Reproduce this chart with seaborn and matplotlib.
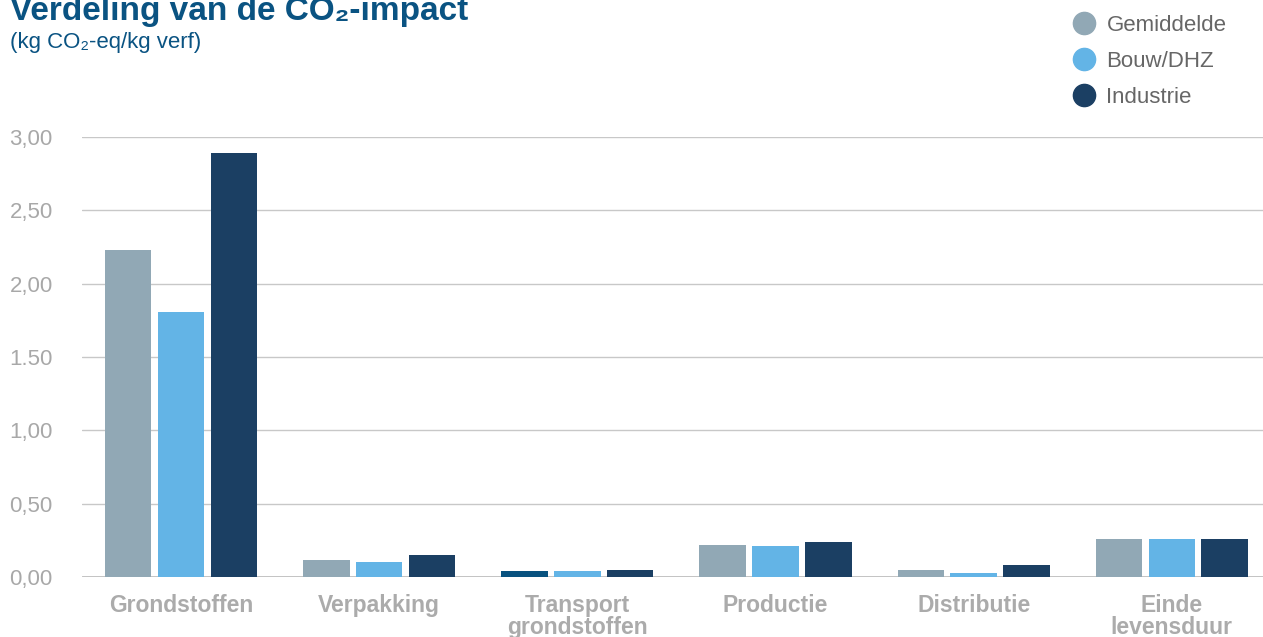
import matplotlib
matplotlib.use("Agg")
import matplotlib.pyplot as plt
from matplotlib.lines import Line2D
import seaborn as sns
import pandas as pd

categories = ["Grondstoffen", "Verpakking", "Transport\ngrondstoffen", "Productie", "Distributie", "Einde\nlevensduur"]
series_names = ["Gemiddelde", "Bouw/DHZ", "Industrie"]
gemiddelde = [2.23, 0.116, 0.04, 0.218, 0.046, 0.26]
bouw_dhz = [1.81, 0.10, 0.04, 0.21, 0.026, 0.26]
industrie = [2.89, 0.15, 0.048, 0.24, 0.08, 0.26]
y_ticks = [0, 0.5, 1.0, 1.5, 2.0, 2.5, 3.0]
y_tick_labels = ["0,00", "0,50", "1,00", "1.50", "2,00", "2,50", "3,00"]

colors = ["#91a8b5", "#63b4e6", "#1b3f63"]

rows = []
for name, vals in zip(series_names, [gemiddelde, bouw_dhz, industrie]):
    for c, v in zip(categories, vals):
        rows.append({"categorie": c, "reeks": name, "waarde": v})
df = pd.DataFrame(rows)

sns.set_theme(style="white")
plt.rcParams["font.family"] = ["Liberation Sans", "DejaVu Sans"]

fig = plt.figure(figsize=(12.63, 6.37), dpi=100)
ax = fig.add_axes([82 / 1263, 1 - 577 / 637, 1 - 82 / 1263, (577 - 137) / 637])

sns.barplot(data=df, x="categorie", y="waarde", hue="reeks", order=categories,
            hue_order=series_names, palette=colors, width=0.8, gap=0.12,
            saturation=1, ax=ax, legend=False, linewidth=0)

# special darker shade on one bar in the original
ax.containers[0][2].set_facecolor("#08527f")

ax.set_ylim(0, 3.0)
ax.set_xlim(-0.5, 5.46)
ax.set_yticks(y_ticks)
ax.set_yticklabels(y_tick_labels)
ax.set_xlabel("")
ax.set_ylabel("")
ax.set_axisbelow(True)
ax.yaxis.grid(True, color="#c8c8c8", linewidth=1.0)
ax.xaxis.grid(False)
for s in ax.spines.values():
    s.set_visible(False)
ax.axhline(0, color="#bdbdbd", linewidth=2.0, zorder=0.5)
ax.tick_params(axis="y", length=0, pad=21, labelsize=16, labelcolor="#a8a8a8")
ax.tick_params(axis="x", length=0, pad=12, labelsize=16.5, labelcolor="#ababab")
for t in ax.get_xticklabels():
    t.set_fontweight("bold")
    t.set_linespacing(0.95)
    t.set_verticalalignment("top")

title_color = "#0a5382"
fig.text(10 / 1263, 1 - 20 / 637, "Verdeling van de CO\u2082-impact", fontsize=24,
         fontweight="bold", color=title_color, va="baseline", ha="left")
fig.text(10 / 1263, 1 - 48 / 637, "(kg CO\u2082-eq/kg verf)", fontsize=16,
         color=title_color, va="baseline", ha="left")

handles = [Line2D([0], [0], marker="o", linestyle="none", markersize=16,
                  markerfacecolor=c, markeredgecolor=c) for c in colors]
fig.legend(handles, series_names, loc="upper left", bbox_to_anchor=(1062 / 1263, 1 - 6 / 637),
           frameon=False, fontsize=16, labelcolor="#666666", handletextpad=0.4,
           labelspacing=0.68, handlelength=1.2, borderaxespad=0)

fig.savefig("out.png", dpi=100)
